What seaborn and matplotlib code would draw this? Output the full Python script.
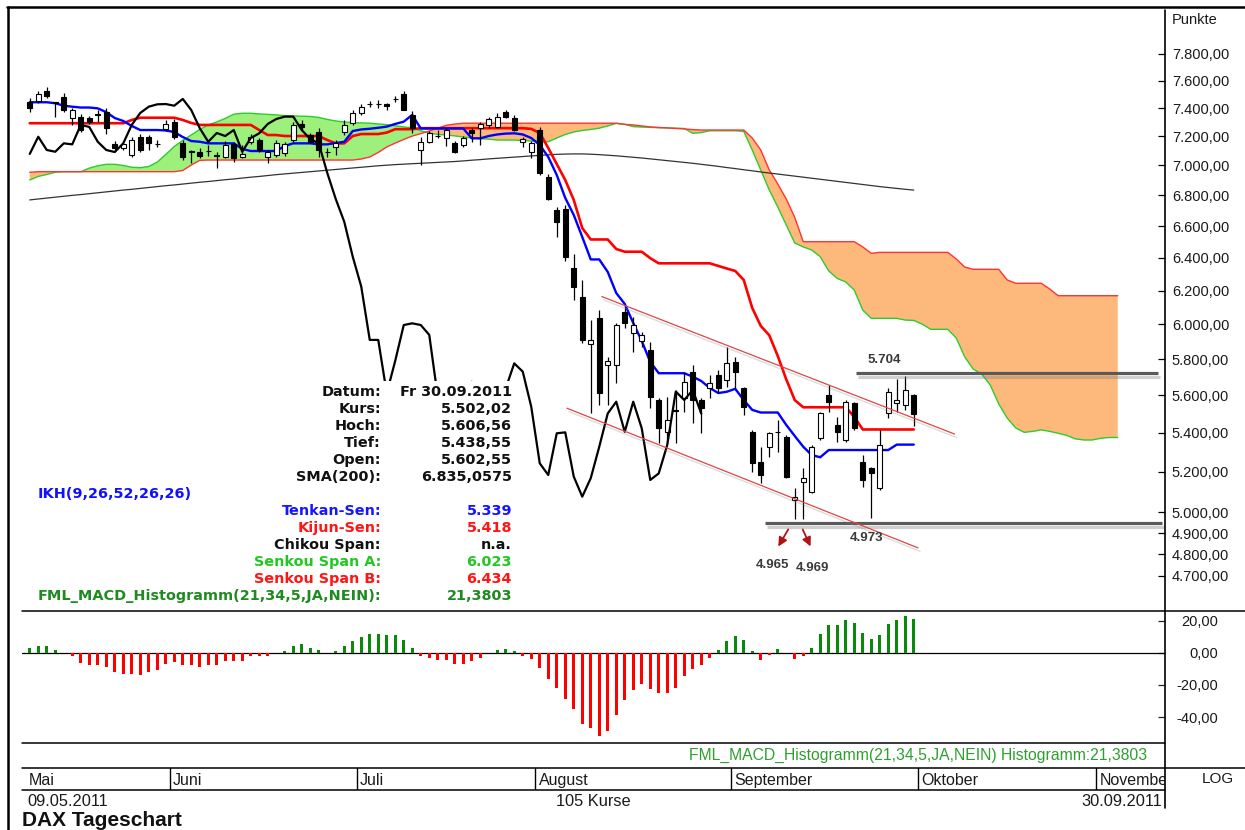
import numpy as np
import matplotlib
matplotlib.use("Agg")
import matplotlib.pyplot as plt
import seaborn as sns
from matplotlib.lines import Line2D
from matplotlib.patches import Rectangle
import matplotlib.patheffects as pe
from matplotlib.ticker import FixedLocator, FixedFormatter, NullLocator

# ---------------- data ----------------
opens = [7447, 7452, 7524, 7445, 7483, 7333, 7340, 7328, 7358, 7370,
         7150, 7120, 7072, 7198, 7198, 7147, 7253, 7304, 7152, 7096,
         7090, 7099, 7070, 7060, 7145, 7058, 7163, 7175, 7060, 7072,
         7085, 7175, 7288, 7210, 7233, 7094, 7130, 7229, 7295, 7366,
         7430, 7428, 7433, 7465, 7502, 7348, 7106, 7163, 7205, 7189,
         7152, 7141, 7245, 7260, 7281, 7269, 7373, 7328, 7163, 7094,
         7245, 6922, 6704, 6709, 6337, 6163, 5887, 6035, 5768, 5768,
         6074, 5951, 5906, 5852, 5575, 5406, 5521, 5584, 5731, 5575,
         5639, 5712, 5684, 5786, 5639, 5406, 5251, 5328, 5406, 5380,
         5060, 5151, 5101, 5372, 5602, 5441, 5363, 5557, 5251, 5218,
         5117, 5503, 5557, 5548, 5602.55]
highs = [7474, 7524, 7556, 7447, 7510, 7401, 7359, 7345, 7387, 7399,
         7168, 7161, 7196, 7217, 7210, 7175, 7316, 7323, 7175, 7106,
         7120, 7141, 7092, 7168, 7161, 7141, 7217, 7189, 7106, 7175,
         7161, 7302, 7316, 7224, 7258, 7118, 7175, 7316, 7387, 7430,
         7452, 7459, 7438, 7490, 7524, 7380, 7196, 7238, 7245, 7260,
         7168, 7203, 7258, 7304, 7340, 7366, 7387, 7352, 7198, 7168,
         7267, 6942, 6726, 6737, 6424, 6264, 6025, 6084, 5815, 6008,
         6103, 6045, 5957, 5900, 5586, 5593, 5630, 5731, 5768, 5586,
         5712, 5740, 5871, 5815, 5648, 5415, 5328, 5406, 5468, 5390,
         5117, 5218, 5337, 5512, 5657, 5486, 5575, 5566, 5285, 5226,
         5415, 5639, 5690, 5704, 5606.56]
lows = [7372, 7438, 7474, 7340, 7372, 7281, 7233, 7288, 7304, 7215,
        7106, 7106, 7058, 7092, 7106, 7130, 7240, 7182, 7037, 7016,
        7048, 7065, 6982, 7051, 7023, 7051, 7147, 7092, 7016, 7058,
        7065, 7161, 7245, 7154, 7058, 7060, 7072, 7210, 7281, 7352,
        7408, 7401, 7387, 7443, 7387, 7224, 7003, 7154, 7189, 7135,
        7085, 7127, 7163, 7141, 7260, 7260, 7330, 7238, 7130, 7054,
        6936, 6770, 6533, 6381, 6143, 5891, 5503, 5548, 5548, 5668,
        5979, 5843, 5871, 5530, 5347, 5347, 5346, 5512, 5450, 5399,
        5584, 5614, 5648, 5639, 5494, 5200, 5143, 5277, 5302, 5168,
        4965, 4969, 5095, 5363, 5512, 5354, 5354, 5415, 5126, 4973,
        5110, 5477, 5512, 5521, 5438.55]
closes = [7399, 7502, 7490, 7440, 7387, 7387, 7245, 7304, 7355, 7258,
          7120, 7145, 7175, 7106, 7152, 7145, 7288, 7198, 7060, 7092,
          7067, 7097, 7065, 7141, 7050, 7079, 7198, 7106, 7094, 7152,
          7145, 7281, 7267, 7163, 7106, 7092, 7152, 7281, 7366, 7411,
          7428, 7430, 7418, 7467, 7387, 7258, 7163, 7224, 7203, 7245,
          7094, 7189, 7222, 7288, 7323, 7340, 7340, 7245, 7182, 7152,
          6950, 6776, 6628, 6407, 6224, 5910, 5910, 5612, 5792, 5996,
          6006, 5996, 5939, 5593, 5424, 5468, 5515, 5675, 5575, 5530,
          5666, 5639, 5777, 5731, 5539, 5243, 5184, 5398, 5403, 5176,
          5076, 5168, 5328, 5503, 5566, 5406, 5566, 5424, 5159, 5192,
          5337, 5621, 5575, 5630, 5502.02]

tenkan = [7443, 7443, 7443, 7436, 7418, 7411, 7405, 7405, 7399, 7372,
          7330, 7309, 7274, 7245, 7245, 7245, 7242, 7231, 7196, 7168,
          7163, 7152, 7152, 7152, 7152, 7113, 7099, 7099, 7099, 7099,
          7134, 7152, 7152, 7152, 7145, 7145, 7154, 7163, 7238, 7249,
          7254, 7261, 7269, 7288, 7304, 7352, 7256, 7256, 7256, 7256,
          7256, 7256, 7187, 7187, 7203, 7214, 7220, 7222, 7214, 7189,
          7141, 7058, 6936, 6783, 6672, 6531, 6390, 6390, 6313, 6185,
          6120, 6008, 5904, 5785, 5722, 5722, 5722, 5722, 5703, 5679,
          5641, 5613, 5620, 5636, 5575, 5522, 5508, 5508, 5508, 5442,
          5384, 5328, 5285, 5274, 5311, 5311, 5311, 5311, 5311, 5311,
          5311, 5311, 5339, 5339, 5339]
kijun = [7293, 7293, 7293, 7293, 7293, 7293, 7293, 7293, 7293, 7293,
         7293, 7293, 7316, 7332, 7332, 7332, 7332, 7332, 7316, 7295,
         7281, 7281, 7281, 7281, 7281, 7281, 7281, 7245, 7210, 7210,
         7203, 7203, 7203, 7203, 7203, 7175, 7152, 7152, 7203, 7217,
         7217, 7217, 7227, 7251, 7251, 7251, 7258, 7258, 7258, 7258,
         7258, 7258, 7258, 7258, 7258, 7258, 7258, 7258, 7258, 7253,
         7224, 7120, 7010, 6902, 6770, 6588, 6515, 6515, 6515, 6455,
         6438, 6438, 6438, 6398, 6366, 6366, 6366, 6366, 6366, 6366,
         6366, 6350, 6334, 6319, 6264, 6096, 5991, 5937, 5819, 5688,
         5575, 5536, 5536, 5536, 5536, 5536, 5536, 5485, 5418, 5418,
         5418, 5418, 5418, 5418, 5418]
senkou_a = [6902, 6926, 6939, 6954, 6958, 6958, 6958, 6982, 6998, 7008,
            7008, 7000, 6988, 6985, 6993, 7023, 7075, 7130, 7172, 7210,
            7249, 7281, 7302, 7327, 7357, 7364, 7364, 7359, 7356, 7352,
            7347, 7345, 7343, 7341, 7334, 7320, 7309, 7302, 7297, 7295,
            7293, 7288, 7283, 7275, 7267, 7260, 7240, 7224, 7214, 7210,
            7204, 7196, 7189, 7184, 7181, 7175, 7175, 7175, 7172, 7168,
            7165, 7163, 7189, 7214, 7231, 7242, 7249, 7258, 7274, 7292,
            7285, 7269, 7266, 7264, 7261, 7260, 7258, 7256, 7222, 7227,
            7240, 7240, 7240, 7240, 7235, 7106, 6970, 6836, 6724, 6607,
            6493, 6468, 6449, 6407, 6319, 6273, 6252, 6203, 6084, 6035,
            6035, 6035, 6035, 6025, 6023, 6001, 5971, 5971, 5971, 5921,
            5813, 5745, 5717, 5657, 5554, 5478, 5426, 5403, 5408, 5416,
            5408, 5398, 5387, 5369, 5363, 5363, 5372, 5376, 5376]
senkou_b = [6954, 6958, 6958, 6958, 6958, 6958, 6958, 6958, 6958, 6958,
            6958, 6958, 6958, 6958, 6958, 6958, 6958, 6958, 6966, 7003,
            7035, 7037, 7037, 7037, 7037, 7037, 7037, 7037, 7037, 7037,
            7037, 7037, 7037, 7037, 7037, 7037, 7037, 7037, 7037, 7044,
            7058, 7089, 7127, 7154, 7179, 7203, 7220, 7238, 7258, 7278,
            7287, 7293, 7293, 7293, 7293, 7293, 7293, 7293, 7293, 7293,
            7293, 7293, 7293, 7293, 7293, 7293, 7293, 7293, 7293, 7293,
            7285, 7281, 7274, 7267, 7263, 7260, 7256, 7253, 7248, 7245,
            7245, 7245, 7245, 7245, 7245, 7189, 7106, 6970, 6876, 6776,
            6656, 6501, 6501, 6501, 6501, 6501, 6501, 6501, 6468, 6428,
            6434, 6434, 6434, 6434, 6434, 6434, 6434, 6434, 6434, 6393,
            6343, 6329, 6329, 6329, 6329, 6264, 6244, 6244, 6244, 6244,
            6209, 6169, 6169, 6169, 6169, 6169, 6169, 6169, 6169]
sma200 = [6770, 6776, 6782, 6788, 6794, 6800, 6805, 6811, 6817, 6823,
          6829, 6835, 6840, 6846, 6852, 6858, 6864, 6869, 6875, 6881,
          6887, 6892, 6898, 6904, 6909, 6915, 6921, 6926, 6932, 6938,
          6943, 6948, 6953, 6958, 6963, 6968, 6973, 6978, 6983, 6988,
          6993, 6998, 7002, 7006, 7009, 7012, 7015, 7018, 7021, 7024,
          7027, 7031, 7036, 7040, 7045, 7049, 7053, 7057, 7061, 7065,
          7069, 7073, 7076, 7078, 7079, 7079, 7077, 7074, 7070, 7066,
          7061, 7056, 7051, 7045, 7039, 7033, 7027, 7021, 7015, 7008,
          7001, 6994, 6986, 6979, 6971, 6964, 6956, 6949, 6942, 6935,
          6928, 6921, 6914, 6907, 6900, 6893, 6886, 6879, 6872, 6865,
          6858, 6852, 6846, 6840, 6835]
macd_hist = [3.3, 4.2, 4.2, 1.7, 0.0, -2.1, -6.0, -7.7, -7.7, -8.75,
             -11.9, -13.3, -12.9, -13.5, -11.9, -10.8, -7.1, -5.6, -7.7, -7.7,
             -8.75, -7.7, -7.7, -5.2, -5.2, -5.2, -2.1, -2.1, -2.1, 0.0,
             1.0, 4.2, 5.8, 3.3, 2.1, 0.0, 1.0, 4.2, 7.5, 10.0,
             11.7, 11.7, 11.0, 11.0, 8.3, 3.3, -2.1, -2.9, -4.2, -4.6,
             -6.7, -6.7, -5.2, -2.9, 0.0, 1.7, 2.7, 1.0, -1.9, -4.0,
             -9.4, -16.0, -21.9, -29.0, -35.2, -44.6, -46.7, -51.9, -48.75, -39.0,
             -29.6, -23.3, -19.2, -22.3, -24.8, -24.8, -21.7, -14.4, -10.2, -7.7,
             -2.9, 1.7, 7.3, 10.6, 8.1, 1.0, -4.2, -1.0, 2.3, 0.0,
             -3.5, -2.1, 3.3, 11.7, 17.3, 17.3, 20.4, 18.75, 12.5, 9.0,
             11.0, 17.9, 20.4, 22.9, 21.38]
chikou_shift = 25

price_ticks = [7800, 7600, 7400, 7200, 7000, 6800, 6600, 6400, 6200, 6000,
               5800, 5600, 5400, 5200, 5000, 4900, 4800, 4700]
price_labels = ["7.800,00", "7.600,00", "7.400,00", "7.200,00", "7.000,00",
                "6.800,00", "6.600,00", "6.400,00", "6.200,00", "6.000,00",
                "5.800,00", "5.600,00", "5.400,00", "5.200,00", "5.000,00",
                "4.900,00", "4.800,00", "4.700,00"]
macd_ticks = [20, 0, -20, -40]
macd_labels = ["20,00", "0,00", "-20,00", "-40,00"]
month_labels = ["Mai", "Juni", "Juli", "August", "September", "Oktober", "November"]
month_start = [0, 17, 39, 60, 83, 105, 126]

# drawn annotations: horizontal levels, trend channel, lows
level_values = [5725, 4948]
level_from = [97.2, 86.5]
level_to = [132.7, 133.2]
channel_x = [[67.3, 108.8], [63.2, 104.5]]
channel_y = [[6164, 5394], [5531, 4830]]
note_texts = ["5.704", "4.973", "4.965", "4.969"]
note_x = [100.5, 98.4, 87.4, 92.1]
note_y = [5796, 4877, 4750, 4737]

info_labels = ["Datum:", "Kurs:", "Hoch:", "Tief:", "Open:", "SMA(200):"]
info_values = ["Fr 30.09.2011", "5.502,02", "5.606,56", "5.438,55", "5.602,55", "6.835,0575"]
ikh_labels = ["Tenkan-Sen:", "Kijun-Sen:", "Chikou Span:", "Senkou Span A:",
              "Senkou Span B:", "FML_MACD_Histogramm(21,34,5,JA,NEIN):"]
ikh_values = ["5.339", "5.418", "n.a.", "6.023", "6.434", "21,3803"]

# ---------------- styling ----------------
sns.set_theme(style="white")
plt.rcParams["font.family"] = ["Liberation Sans", "DejaVu Sans"]

W, H = 1245, 830
fig = plt.figure(figsize=(W / 100, H / 100), dpi=100)
fig.patch.set_facecolor("white")


def fx(px):
    return px / W


def fy(py):
    return 1 - py / H


L, R = 22, 1165
ax = fig.add_axes([fx(L), fy(611), fx(R) - fx(L), fy(10) - fy(611)])
axm = fig.add_axes([fx(L), fy(743), fx(R) - fx(L), fy(611) - fy(743)])
axx = fig.add_axes([fx(L), fy(790), fx(R) - fx(L), fy(768) - fy(790)])
XMIN, XMAX = -0.912, 133.56
for a in (ax, axm, axx):
    a.set_xlim(XMIN, XMAX)
    a.set_facecolor("none")
    for s in a.spines.values():
        s.set_visible(False)
    a.set_xticks([])

# ---------------- price panel ----------------
ax.set_yscale("log")
ax.set_ylim(4543, 8140)

GREEN_FILL = "#9df07c"
ORANGE_FILL = "#fdb97b"
ic = np.arange(len(senkou_a))
sa = np.array(senkou_a, dtype=float)
sb = np.array(senkou_b, dtype=float)
ax.fill_between(ic, sa, sb, where=sa >= sb, interpolate=True, color=GREEN_FILL, lw=0, zorder=1)
ax.fill_between(ic, sa, sb, where=sa < sb, interpolate=True, color=ORANGE_FILL, lw=0, zorder=1)
sns.lineplot(x=ic, y=sa, ax=ax, color="#2ccc2c", lw=1.0, zorder=2, estimator=None, sort=False)
sns.lineplot(x=ic, y=sb, ax=ax, color="#ff3333", lw=1.0, zorder=2, estimator=None, sort=False)

ix = np.arange(len(closes))
sns.lineplot(x=ix, y=sma200, ax=ax, color="#333333", lw=0.9, zorder=2, estimator=None, sort=False)
sns.lineplot(x=ix, y=kijun, ax=ax, color="#ff0000", lw=1.9, zorder=3, estimator=None, sort=False)
sns.lineplot(x=ix, y=tenkan, ax=ax, color="#0000ff", lw=1.7, zorder=3, estimator=None, sort=False)

o = np.array(opens); c = np.array(closes); h = np.array(highs); lo = np.array(lows)
ax.vlines(ix, lo, h, color="black", lw=0.9, zorder=4)
ax.bar(ix, np.abs(c - o), bottom=np.minimum(o, c), width=0.62,
       color=np.where(c >= o, "white", "black"), edgecolor="black", lw=0.8, zorder=5)

ch = np.array(closes[chikou_shift:])
sns.lineplot(x=np.arange(len(ch)), y=ch, ax=ax, color="black", lw=1.6, zorder=6,
             estimator=None, sort=False)

shadow = [pe.SimpleLineShadow(offset=(1.5, -3), shadow_color="#777777", alpha=0.35), pe.Normal()]
for lv, x0, x1 in zip(level_values, level_from, level_to):
    ax.plot([x0, x1], [lv, lv], color="#5a5a5a", lw=2.3, solid_capstyle="butt",
            zorder=7, path_effects=shadow)
for xs, ys in zip(channel_x, channel_y):
    ax.plot(xs, ys, color="#d84848", lw=0.9, zorder=7,
            path_effects=[pe.SimpleLineShadow(offset=(1.5, -2.5), shadow_color="#888888", alpha=0.3), pe.Normal()])
for t, xx, yy in zip(note_texts, note_x, note_y):
    ax.text(xx, yy, t, ha="center", va="center", fontsize=9.5, fontweight="bold",
            color="#3a3a3a", zorder=8)
ax.annotate("", xy=(87.9, 4825), xytext=(89.4, 4929),
            arrowprops=dict(arrowstyle="-|>", color="#b01515", lw=1.3, mutation_scale=13), zorder=8)
ax.annotate("", xy=(92.0, 4825), xytext=(90.8, 4929),
            arrowprops=dict(arrowstyle="-|>", color="#b01515", lw=1.3, mutation_scale=13), zorder=8)

ax.yaxis.set_major_locator(FixedLocator(price_ticks))
ax.yaxis.set_major_formatter(FixedFormatter(price_labels))
ax.yaxis.set_minor_locator(NullLocator())
ax.yaxis.tick_right()
ax.tick_params(axis="y", which="major", direction="in", length=5, width=0.9, pad=5,
               labelsize=10.5, labelcolor="#1a1a1a", color="black", right=True, left=False)

# ---------------- MACD panel ----------------
axm.set_ylim(-56.25, 26.25)
mh = np.array(macd_hist)
axm.bar(ix, mh, width=0.36, color=np.where(mh >= 0, "#0a8a0a", "#ff0000"), lw=0, zorder=3)
axm.axhline(0, color="black", lw=0.9, zorder=2)
axm.yaxis.set_major_locator(FixedLocator(macd_ticks))
axm.yaxis.set_major_formatter(FixedFormatter(macd_labels))
axm.yaxis.set_minor_locator(NullLocator())
axm.yaxis.tick_right()
axm.tick_params(axis="y", which="major", direction="in", length=5, width=0.9, pad=38,
                labelsize=10.5, labelcolor="#1a1a1a", right=True, left=False)
for lab in axm.get_yticklabels():
    lab.set_horizontalalignment("right")

# ---------------- month strip ----------------
axx.set_ylim(0, 1)
axx.set_yticks([])
for m, s in zip(month_labels, month_start):
    if s > 0:
        axx.axvline(s - 0.5, color="black", lw=1.0)
    axx.text(s - 0.5 + 0.35, 0.45, m, ha="left", va="center", fontsize=11.5,
             color="#1a1a1a", clip_on=True)

# ---------------- frame lines ----------------
def hline(y, x0, x1, lw=1.0, color="black"):
    fig.add_artist(Line2D([fx(x0), fx(x1)], [fy(y), fy(y)], transform=fig.transFigure,
                          color=color, lw=lw))


def vline(x, y0, y1, lw=1.0, color="black"):
    fig.add_artist(Line2D([fx(x), fx(x)], [fy(y0), fy(y1)], transform=fig.transFigure,
                          color=color, lw=lw))


hline(7.5, 7, 1245, lw=1.8)
vline(7.5, 7, 830, lw=1.8)
hline(611, L, 1245, lw=1.1)
hline(743, L, R, lw=1.1)
hline(768, L, 1245, lw=1.1)
hline(790, L, R, lw=1.1)
vline(R, 10, 808, lw=1.2)

# ---------------- info box ----------------
fig.add_artist(Rectangle((fx(35), fy(605)), fx(516) - fx(35), fy(381) - fy(605),
                         transform=fig.transFigure, facecolor="white", edgecolor="none", zorder=10))
info_font = dict(family="DejaVu Sans", fontweight="bold", fontsize=10.4)
ylist = [392, 409, 426, 443, 460, 477]
for lab, val, yy in zip(info_labels, info_values, ylist):
    fig.text(fx(381), fy(yy), lab, ha="right", va="center", color="#111111", zorder=11, **info_font)
    fig.text(fx(512), fy(yy), val, ha="right", va="center", color="#111111", zorder=11, **info_font)
fig.text(fx(38), fy(494), "IKH(9,26,52,26,26)", ha="left", va="center", color="#1010ff",
         zorder=11, **info_font)
ikh_colors = ["#1515ff", "#ff1515", "#111111", "#22c822", "#ff1515", "#1f8a1f"]
for lab, val, col, yy in zip(ikh_labels, ikh_values, ikh_colors, [511, 528, 545, 562, 579, 596]):
    fig.text(fx(381), fy(yy), lab, ha="right", va="center", color=col, zorder=11, **info_font)
    fig.text(fx(512), fy(yy), val, ha="right", va="center", color=col, zorder=11, **info_font)

# ---------------- other texts ----------------
fig.text(fx(1172), fy(20), "Punkte", ha="left", va="center", fontsize=10.5, color="#1a1a1a")
fig.text(fx(1147), fy(755), "FML_MACD_Histogramm(21,34,5,JA,NEIN) Histogramm:21,3803",
         ha="right", va="center", fontsize=11.3, color="#2f9e2f")
fig.text(fx(1218), fy(779), "LOG", ha="center", va="center", fontsize=11, color="#1a1a1a")
fig.text(fx(27), fy(801), "09.05.2011", ha="left", va="center", fontsize=11.8, color="#1a1a1a")
fig.text(fx(593), fy(801), "105 Kurse", ha="center", va="center", fontsize=11.8, color="#1a1a1a")
fig.text(fx(1162), fy(801), "30.09.2011", ha="right", va="center", fontsize=11.8, color="#1a1a1a")
fig.text(fx(22), fy(820), "DAX Tageschart", ha="left", va="center", fontsize=15,
         fontweight="bold", color="#111111")

fig.savefig("out.png", dpi=100, facecolor="white")
